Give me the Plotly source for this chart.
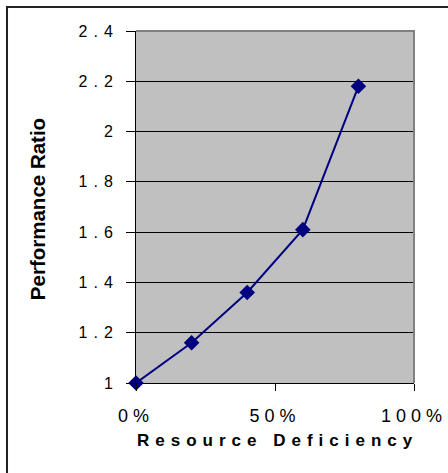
import plotly.graph_objects as go

# Data
deficiency = [0.0, 0.2, 0.4, 0.6, 0.8]          # Resource Deficiency (fraction)
perf_ratio = [1.0, 1.16, 1.36, 1.61, 2.18]       # Performance Ratio

y_tickvals = [1.0, 1.2, 1.4, 1.6, 1.8, 2.0, 2.2, 2.4]
y_ticklabels = ["1", "1.2", "1.4", "1.6", "1.8", "2", "2.2", "2.4"]
x_tickvals = [0.0, 0.5, 1.0]
x_ticklabels = ["0%", "50%", "100%"]

x_title = "Resource Deficiency"
y_title = "Performance Ratio"

FONT = "Arial, 'Liberation Sans', sans-serif"
NAVY = "#000080"


def spaced(t, px):
    return f'<span style="letter-spacing:{px}px">{t}</span>'


fig = go.Figure()
fig.add_trace(go.Scatter(
    x=deficiency, y=perf_ratio, mode="lines+markers",
    line=dict(color=NAVY, width=2),
    marker=dict(symbol="diamond", size=12, color=NAVY, line=dict(width=0)),
    cliponaxis=False, showlegend=False, hoverinfo="skip",
))

fig.update_layout(
    width=448, height=473, autosize=False,
    margin=dict(l=136, r=34, t=31, b=90, pad=0),
    paper_bgcolor="white", plot_bgcolor="#C0C0C0",
    font=dict(family=FONT, color="black"),
    xaxis=dict(
        range=[0, 1], tickvals=x_tickvals,
        ticktext=[spaced(t, 5) for t in x_ticklabels],
        tickfont=dict(size=18, family=FONT, color="black"),
        showgrid=False, zeroline=False, automargin=False,
        showline=True, linecolor="black", linewidth=1,
        ticks="outside", ticklen=7, tickcolor="black", tickwidth=1,
        ticklabelstandoff=9,
    ),
    yaxis=dict(
        range=[1, 2.4], tickvals=y_tickvals,
        ticktext=[spaced(t, 6) for t in y_ticklabels],
        tickfont=dict(size=16, family=FONT, color="black"),
        showgrid=True, gridcolor="black", gridwidth=1,
        zeroline=False, automargin=False,
        showline=True, linecolor="black", linewidth=1,
        ticks="outside", ticklen=9, tickcolor="black", tickwidth=1,
        ticklabelstandoff=4,
    ),
    shapes=[
        # gray top and right plot-area border
        dict(type="path", xref="x domain", yref="y domain",
             path="M 0 1 L 1 1 L 1 0", line=dict(color="#808080", width=2),
             layer="above"),
        # outer chart frame
        dict(type="rect", xref="paper", yref="paper",
             x0=-0.464, x1=1.2, y0=-0.3, y1=1.068,
             line=dict(color="#222222", width=2), fillcolor="rgba(0,0,0,0)",
             layer="below"),
    ],
    annotations=[
        dict(text=spaced(x_title, 6), xref="paper", yref="paper",
             x=0.51, y=-0.162, xanchor="center", yanchor="middle",
             showarrow=False, font=dict(size=17, family=FONT, color="black", weight="bold")),
        dict(text=y_title, xref="paper", yref="paper",
             x=-0.356, y=0.494, xanchor="center", yanchor="middle",
             textangle=-90, showarrow=False,
             font=dict(size=20.5, family=FONT, color="black", weight="bold")),
    ],
)

fig.write_html("out.html", config={"displayModeBar": False},
               post_script="document.body.style.margin='0';")
